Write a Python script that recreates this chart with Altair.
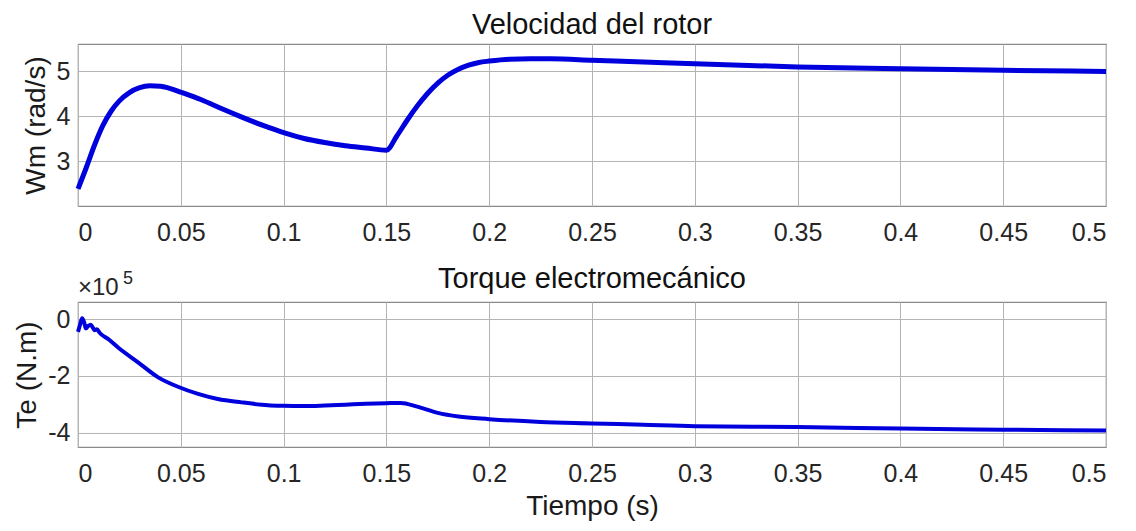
import altair as alt
import pandas as pd

# ---- data ----
# Rotor speed (rad/s)
t_wm = [0.000, 0.004, 0.008, 0.012, 0.016, 0.020, 0.025, 0.030, 0.035, 0.040,
        0.045, 0.050, 0.060, 0.070, 0.080, 0.090, 0.100, 0.110, 0.120, 0.130,
        0.140, 0.150, 0.155, 0.160, 0.165, 0.170, 0.175, 0.180, 0.185, 0.190,
        0.195, 0.200, 0.210, 0.220, 0.230, 0.250, 0.275, 0.300, 0.350, 0.400,
        0.450, 0.500]
wm = [2.38, 2.85, 3.35, 3.78, 4.10, 4.33, 4.52, 4.63, 4.67, 4.66,
      4.61, 4.53, 4.36, 4.16, 3.97, 3.79, 3.63, 3.50, 3.41, 3.34,
      3.29, 3.24, 3.55, 3.90, 4.22, 4.50, 4.73, 4.91, 5.04, 5.13,
      5.19, 5.22, 5.26, 5.27, 5.27, 5.24, 5.20, 5.16, 5.09, 5.05,
      5.015, 4.99]

# Electromechanical torque (in units of 1e5 N.m)
t_te = [0.000, 0.001, 0.002, 0.003, 0.0038, 0.005, 0.0062, 0.0072, 0.0080, 0.0092,
        0.0105, 0.0150, 0.0195, 0.0292, 0.0390, 0.0486, 0.0584, 0.0680, 0.0795, 0.0924,
        0.100, 0.110, 0.120, 0.130, 0.140, 0.150, 0.157, 0.165, 0.175, 0.185,
        0.200, 0.225, 0.250, 0.275, 0.300, 0.350, 0.400, 0.450, 0.500]
te = [-0.45, -0.20, 0.03, -0.12, -0.33, -0.24, -0.20, -0.30, -0.39, -0.36,
      -0.48, -0.72, -1.00, -1.52, -2.05, -2.38, -2.63, -2.81, -2.93, -3.03,
      -3.05, -3.06, -3.04, -3.01, -2.98, -2.96, -2.95, -3.08, -3.30, -3.43,
      -3.52, -3.62, -3.67, -3.72, -3.77, -3.80, -3.85, -3.89, -3.92]

x_ticks = [0, 0.05, 0.1, 0.15, 0.2, 0.25, 0.3, 0.35, 0.4, 0.45, 0.5]
wm_ticks = [3, 4, 5]
te_ticks = [-4, -2, 0]
exp_label = ["×10"]
exp_power = ["5"]

FONT = "Liberation Sans"
BLUE = "#0000dd"
LBL = "datum.value + ''"

df_w = pd.DataFrame({"t": t_wm, "wm": wm})
df_t = pd.DataFrame({"t": t_te, "te": te})

xscale = alt.Scale(domain=[0, 0.5], nice=False)

top = alt.Chart(df_w).mark_line(color=BLUE, strokeWidth=5, interpolate="monotone").encode(
    x=alt.X("t:Q", scale=xscale, axis=alt.Axis(values=x_ticks, labelExpr=LBL, title=None)),
    y=alt.Y("wm:Q", scale=alt.Scale(domain=[2, 5.6], nice=False, zero=False),
            axis=alt.Axis(values=wm_ticks, labelExpr=LBL, title="Wm (rad/s)")),
).properties(width=1028, height=162,
             title=alt.TitleParams("Velocidad del rotor", offset=4))

line_te = alt.Chart(df_t).mark_line(color=BLUE, strokeWidth=4, interpolate="monotone").encode(
    x=alt.X("t:Q", scale=xscale, axis=alt.Axis(values=x_ticks, labelExpr=LBL, title="Tiempo (s)")),
    y=alt.Y("te:Q", scale=alt.Scale(domain=[-4.5, 0.6], nice=False, zero=False),
            axis=alt.Axis(values=te_ticks, labelExpr=LBL, title="Te (N.m)")),
)

exp_txt = alt.Chart(pd.DataFrame({"label": exp_label})).mark_text(
    align="left", baseline="alphabetic", font=FONT, fontSize=24, color="#262626"
).encode(x=alt.value(0), y=alt.value(-7), text="label:N")

exp_pow = alt.Chart(pd.DataFrame({"label": exp_power})).mark_text(
    align="left", baseline="alphabetic", font=FONT, fontSize=18, color="#262626"
).encode(x=alt.value(45), y=alt.value(-18), text="label:N")

bottom = alt.layer(line_te, exp_txt, exp_pow).properties(
    width=1028, height=145,
    title=alt.TitleParams("Torque electromecánico", offset=-24))

chart = alt.vconcat(
    top, bottom, spacing=18,
    padding={"left": 5, "top": 2, "right": 5, "bottom": 0},
    background="white",
).configure_axis(
    domain=False,
    ticks=False,
    grid=True,
    gridColor="#b4b4b4",
    gridWidth=1,
    labelFont=FONT,
    labelFontSize=25,
    labelColor="#262626",
    labelPadding=8,
    titleFont=FONT,
    titleFontSize=28,
    titleFontWeight="normal",
    titleColor="#1a1a1a",
    titlePadding=6,
).configure_axisX(labelPadding=14, titlePadding=6).configure_view(
    stroke="#8a8a8a", strokeWidth=1.2
).configure_title(
    font=FONT, fontSize=29, fontWeight="normal", color="#111111", anchor="middle"
)

chart.save("out.html", embed_options={"renderer": "svg", "actions": False})
